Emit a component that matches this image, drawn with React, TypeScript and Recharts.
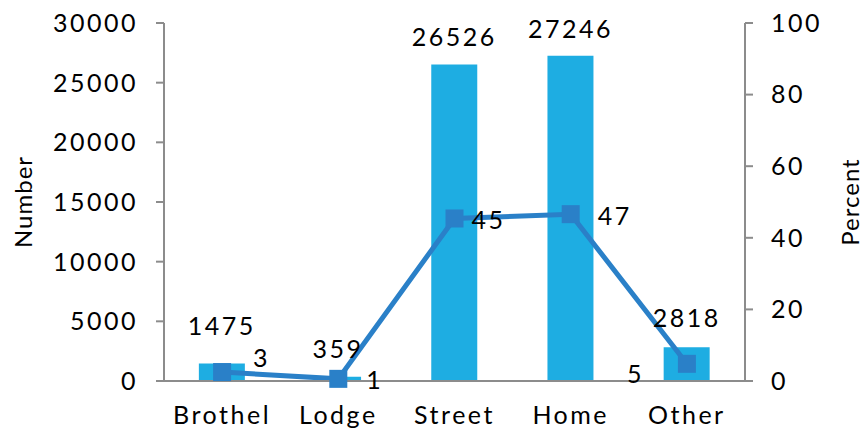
import React from "react";
import {
  ComposedChart,
  Bar,
  Line,
  XAxis,
  YAxis,
  LabelList,
} from "recharts";

const categories = ["Brothel", "Lodge", "Street", "Home", "Other"];
const numbers = [1475, 359, 26526, 27246, 2818];
const percents = [2.5, 0.6, 45.4, 46.6, 4.8];
const leftTicks = [0, 5000, 10000, 15000, 20000, 25000, 30000];
const rightTicks = [0, 20, 40, 60, 80, 100];

const data = categories.map((name, i) => ({
  name,
  idx: i + 0.5,
  number: numbers[i],
  percent: percents[i],
}));

const FONT = "Lato, 'DejaVu Sans', sans-serif";
const AXIS = "#8c8c8c";
const BAR = "#1eade2";
const LINE = "#2a80c8";
const TXT = { fill: "#000", fontSize: 25, letterSpacing: 2.5 };

// label offsets copied from where Excel placed them
const pctDx = [31, 28, 17, 27, -60];
const pctDy = [-5, 10, 11, 11, 19];
const numDy = [-28, -19, -18, -18, -20];

const SquareDot = (props: any) => {
  const { cx, cy } = props;
  if (cx == null || cy == null) return null;
  return <rect x={cx - 9} y={cy - 9} width={18} height={18} fill={LINE} />;
};

const PercentLabel = (props: any) => {
  const { x, y, value, index } = props;
  return (
    <text
      x={x + pctDx[index]}
      y={y + pctDy[index]}
      fontSize={25}
      letterSpacing={2.5}
      fontFamily={FONT}
      fill="#000"
    >
      {Math.round(value)}
    </text>
  );
};

const NumberLabel = (props: any) => {
  const { x, y, width, value, index } = props;
  return (
    <text
      x={x + width / 2}
      y={y + numDy[index]}
      textAnchor="middle"
      fontSize={25}
      letterSpacing={2.5}
      fontFamily={FONT}
      fill="#000"
    >
      {value}
    </text>
  );
};

export default function App() {
  return (
    <div style={{ position: "absolute", left: 0, top: 0 }}>
      <ComposedChart
        width={866}
        height={432}
        data={data}
        margin={{ top: 23, right: 0, left: 0, bottom: 0 }}
        barCategoryGap="30%"
        style={{ fontFamily: FONT }}
      >
        <XAxis
          xAxisId="a"
          dataKey="idx"
          type="number"
          domain={[0, 5]}
          ticks={[0, 1, 2, 3, 4, 5]}
          tick={false}
          tickSize={9}
          height={10}
          stroke={AXIS}
          strokeWidth={2}
        />
        <XAxis
          xAxisId="b"
          dataKey="name"
          axisLine={false}
          tickLine={false}
          height={41}
          tick={TXT}
          tickMargin={9}
        />
        <YAxis
          yAxisId="left"
          domain={[0, 30000]}
          ticks={leftTicks}
          width={164}
          stroke={AXIS}
          strokeWidth={2}
          tickSize={8}
          tick={TXT}
          tickMargin={18}
          label={{
            value: "Number",
            angle: -90,
            position: "insideLeft",
            offset: 23,
            style: { fill: "#000", fontSize: 24, letterSpacing: 1, textAnchor: "middle" },
          }}
        />
        <YAxis
          yAxisId="right"
          orientation="right"
          domain={[0, 100]}
          ticks={rightTicks}
          width={121}
          stroke={AXIS}
          strokeWidth={2}
          tickSize={8}
          tick={TXT}
          tickMargin={18}
          label={{
            value: "Percent",
            angle: -90,
            position: "insideRight",
            offset: 16,
            style: { fill: "#000", fontSize: 24, letterSpacing: 1, textAnchor: "middle" },
          }}
        />
        <Bar
          xAxisId="b"
          yAxisId="left"
          dataKey="number"
          fill={BAR}
          isAnimationActive={false}
        >
          <LabelList dataKey="number" content={<NumberLabel />} />
        </Bar>
        <Line
          xAxisId="b"
          yAxisId="right"
          dataKey="percent"
          stroke={LINE}
          strokeWidth={5}
          dot={<SquareDot />}
          activeDot={false}
          isAnimationActive={false}
        >
          <LabelList dataKey="percent" content={<PercentLabel />} />
        </Line>
      </ComposedChart>
    </div>
  );
}
